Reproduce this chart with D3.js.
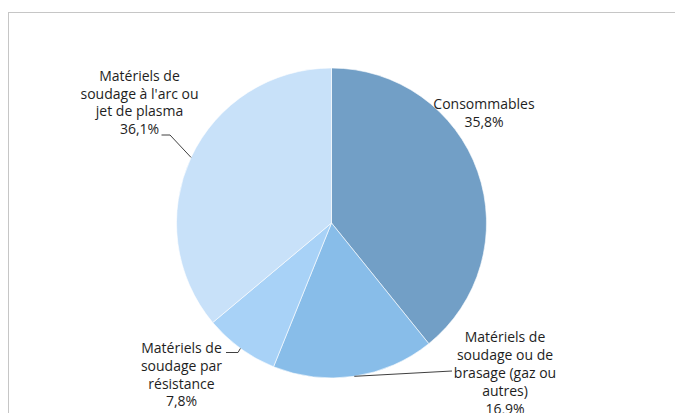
<!DOCTYPE html>
<html>
<head>
<meta charset="utf-8">
<script src="https://cdn.jsdelivr.net/npm/d3@7"></script>
<style>
  body { margin: 0; background: #fff; }
  svg { display: block; }
</style>
</head>
<body>
<div id="chart"></div>
<script>
// slice sizes as drawn, and the percentages printed on the labels
let categories = ["Consommables", "Matériels de soudage ou de brasage (gaz ou autres)", "Matériels de soudage par résistance", "Matériels de soudage à l'arc ou jet de plasma"];
let values = [39.2, 16.9, 7.8, 36.1];
let percentLabels = ["35,8%", "16,9%", "7,8%", "36,1%"];
let labelLines = [
    ["Consommables"],
    ["Matériels de", "soudage ou de", "brasage (gaz ou", "autres)"],
    ["Matériels de", "soudage par", "résistance"],
    ["Matériels de", "soudage à l'arc ou", "jet de plasma"]
];

let width = 675;
let height = 413;
let cx = 331.5;
let cy = 223;
let radius = 155;

let colors = ["#729fc6", "#88bde9", "#a8d2f7", "#c8e1f9"];

// label layout: centre x, first baseline, line step, leader bend points
let labelPos = [
    {x: 484, y: 108.7, step: 18.6, leader: null},
    {x: 505, y: 342, step: 18.1, leader: [[452, 371]]},
    {x: 181.5, y: 352.7, step: 17.9, leader: [[238, 352.5], [226, 352.5]]},
    {x: 139.5, y: 81, step: 17.7, leader: [[170, 135], [161.5, 135]]}
];

let svg = d3.select("#chart").append("svg")
    .attr("width", width)
    .attr("height", height);

svg.append("rect")
    .attr("x", 8.5)
    .attr("y", 12.5)
    .attr("width", 700)
    .attr("height", 450)
    .attr("fill", "#fff")
    .attr("stroke", "#c6c6c6")
    .attr("stroke-width", 1);

let pie = d3.pie().sort(null).value(d => d);
let arcs = pie(values);

let arc = d3.arc().innerRadius(0).outerRadius(radius);

let g = svg.append("g").attr("transform", `translate(${cx},${cy})`);

g.selectAll("path")
    .data(arcs)
    .join("path")
        .attr("d", arc)
        .attr("fill", (d, i) => colors[i])
        .attr("stroke", "#fff")
        .attr("stroke-width", 0.6);

// leader lines from the middle of each slice edge
let line = d3.line();
arcs.forEach((d, i) => {
    let p = labelPos[i];
    if (!p.leader) return;
    let a = (d.startAngle + d.endAngle) / 2;
    let edge = [cx + radius * Math.sin(a), cy - radius * Math.cos(a)];
    svg.append("path")
        .attr("d", line([edge].concat(p.leader)))
        .attr("fill", "none")
        .attr("stroke", "#404040")
        .attr("stroke-width", 1);
});

let labels = svg.append("g")
    .style("font", "14px 'Open Sans', sans-serif")
    .attr("fill", "#1e1e1e")
    .attr("text-anchor", "middle");

labels.selectAll("text")
    .data(arcs)
    .join("text")
        .each(function(d, i) {
            let p = labelPos[i];
            let lines = labelLines[i].concat([percentLabels[i]]);
            d3.select(this).selectAll("tspan")
                .data(lines)
                .join("tspan")
                    .attr("x", p.x)
                    .attr("y", (t, k) => p.y + k * p.step)
                    .text(t => t);
        });
</script>
</body>
</html>
